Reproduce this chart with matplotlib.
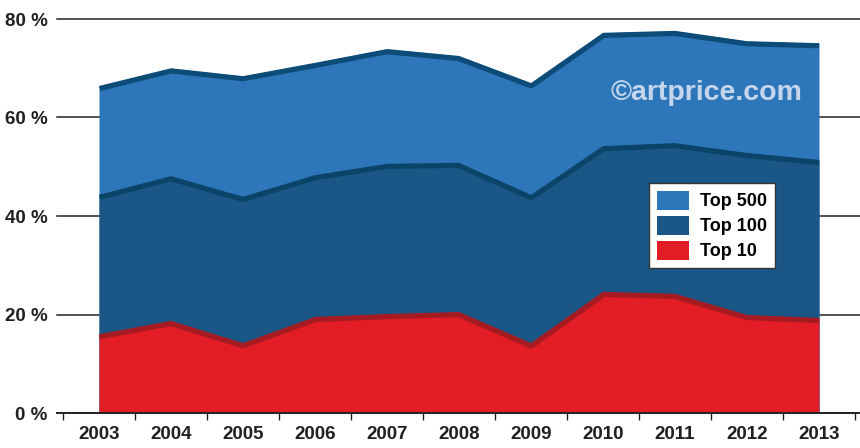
import matplotlib
matplotlib.use("Agg")
import matplotlib.pyplot as plt
from matplotlib.patches import Patch

years = ["2003", "2004", "2005", "2006", "2007", "2008", "2009", "2010", "2011", "2012", "2013"]
top500 = [66.4, 70.0, 68.4, 71.1, 73.9, 72.5, 67.0, 77.2, 77.6, 75.5, 75.1]
top100 = [44.3, 48.1, 43.9, 48.3, 50.6, 50.8, 44.3, 54.2, 54.8, 52.8, 51.4]
top10 = [16.0, 18.7, 14.2, 19.5, 20.1, 20.5, 14.2, 24.6, 24.2, 19.9, 19.3]
yticks = [0, 20, 40, 60, 80]

FONT = ["Liberation Sans Narrow", "Liberation Sans", "DejaVu Sans"]
plt.rcParams['font.family'] = FONT

fig = plt.figure(figsize=(8.6, 4.48), dpi=100)
ax = fig.add_axes([63 / 860, 35 / 448, 792 / 860, 394 / 448])

x = list(range(len(years)))
series = [
    (top500, "#2E76BA", "#0D4C78", "Top 500"),
    (top100, "#1A5686", "#0A4468", "Top 100"),
    (top10, "#E31D25", "#A61B22", "Top 10"),
]
for vals, fill, edge, name in series:
    poly = ax.fill_between(x, 0, vals, color=fill, lw=0, zorder=2)
    # dark band along the top edge, kept inside the area
    line, = ax.plot(x, vals, color=edge, lw=7.5, solid_capstyle="butt", zorder=3)
    line.set_clip_path(poly.get_paths()[0], ax.transData)

ax.set_xlim(-0.5, len(years) - 0.5)
ax.set_ylim(0, 80)

for v in yticks:
    ax.axhline(v, xmin=-0.007, xmax=1.01, color="#222222", lw=1.1, zorder=1, clip_on=False)
ax.axhline(0, xmin=-0.007, xmax=1.01, color="#222222", lw=1.3, zorder=4, clip_on=False)

for s in ax.spines.values():
    s.set_visible(False)

ax.set_xticks(x)
ax.set_xticklabels(years, fontsize=13.5, fontweight="bold", color="#231F20")
ax.set_xticks([i - 0.5 for i in range(len(years) + 1)], minor=True)
ax.tick_params(axis="x", which="major", length=0, pad=9)
ax.tick_params(axis="x", which="minor", length=5, width=1, color="#222222", direction="out")

ax.set_yticks(yticks)
ax.set_yticklabels([f"{v} %" for v in yticks], fontsize=13.5, fontweight="bold", color="#231F20")
ax.tick_params(axis="y", length=0, pad=11)

ax.text(0.813, 0.812, "©artprice.com", transform=ax.transAxes, ha="center", va="center",
        fontsize=20.5, fontweight="bold", color="#C5D6EC", family=["Liberation Sans", "DejaVu Sans"],
        zorder=5)

handles = [Patch(facecolor=f, edgecolor="none", label=n) for _, f, _, n in series]
leg = ax.legend(handles=handles, loc="upper left", bbox_to_anchor=(0.740, 0.585),
                frameon=True, fancybox=False, framealpha=1, edgecolor="#333333",
                prop={"family": FONT, "weight": "bold", "size": 13},
                handlelength=1.75, handleheight=1.25, handletextpad=0.6,
                labelspacing=0.3, borderpad=0.45, borderaxespad=0)
leg.get_frame().set_linewidth(1)
leg.set_zorder(6)

fig.savefig("out.png", dpi=100)
